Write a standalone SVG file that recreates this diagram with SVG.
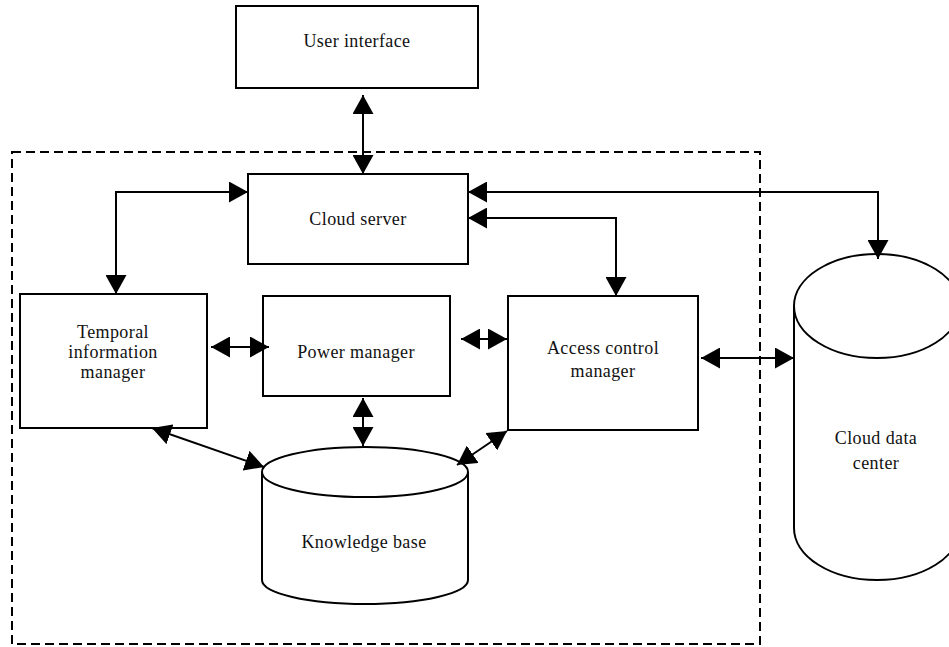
<svg xmlns="http://www.w3.org/2000/svg" width="949" height="647" viewBox="0 0 949 647">
<style>
.box{fill:#fff;stroke:#000;stroke-width:2}
.cyl{fill:#fff;stroke:#000;stroke-width:2}
.lbl{font-family:'Liberation Serif','Times New Roman','DejaVu Serif',serif;font-size:18px;letter-spacing:0.4px;fill:#111;text-anchor:middle}
.con{fill:none;stroke:#000;stroke-width:2;marker-start:url(#ah);marker-end:url(#ah)}
.frame{fill:none;stroke:#000;stroke-width:2;stroke-dasharray:9 5}
</style>
<defs>
<marker id="ah" viewBox="0 0 19 21" refX="19" refY="10.5" markerWidth="19" markerHeight="21" markerUnits="userSpaceOnUse" orient="auto-start-reverse">
<path d="M0,0 L19,10.5 L0,21 z" fill="#000"/>
</marker>
</defs>
<rect class="frame" x="12" y="152" width="748" height="492"/>
<g id="user-interface">
<rect class="box" x="236" y="6" width="242" height="82"/>
<text class="lbl" x="357" y="47">User interface</text>
</g>
<g id="cloud-server">
<rect class="box" x="248" y="174" width="220" height="90"/>
<text class="lbl" x="358" y="225">Cloud server</text>
</g>
<g id="temporal-information-manager">
<rect class="box" x="20" y="294" width="187" height="134"/>
<text class="lbl" x="113" y="338">Temporal</text>
<text class="lbl" x="113" y="358">information</text>
<text class="lbl" x="113" y="378">manager</text>
</g>
<g id="power-manager">
<rect class="box" x="263" y="296" width="187" height="100"/>
<text class="lbl" x="356" y="358">Power manager</text>
</g>
<g id="access-control-manager">
<rect class="box" x="508" y="296" width="190" height="134"/>
<text class="lbl" x="603" y="354">Access control</text>
<text class="lbl" x="603" y="377">manager</text>
</g>
<g id="knowledge-base">
<path class="cyl" d="M262,472 L262,580 A103,24 0 0 0 468,580 L468,472"/>
<ellipse class="cyl" cx="365" cy="472" rx="103" ry="25"/>
<text class="lbl" x="364" y="548">Knowledge base</text>
</g>
<g id="cloud-data-center">
<path class="cyl" d="M794,306 L794,528 A83,52 0 0 0 960,528 L960,306"/>
<ellipse class="cyl" cx="877" cy="306" rx="83" ry="52"/>
<text class="lbl" x="876" y="444">Cloud data</text>
<text class="lbl" x="876" y="469">center</text>
</g>
<g id="connectors">
<path class="con" d="M363,95 L363,174"/>
<path class="con" d="M248,192 L116,192 L116,294"/>
<path class="con" d="M468,192 L878,192 L878,259"/>
<path class="con" d="M468,218 L616,218 L616,296"/>
<path class="con" d="M211,347 L269,347"/>
<path class="con" d="M461,339 L507,339"/>
<path class="con" d="M701,358 L794,358"/>
<path class="con" d="M363,398 L363,446"/>
<path class="con" d="M152,428 L264,467"/>
<path class="con" d="M507,431 L457,465"/>
</g>
</svg>
